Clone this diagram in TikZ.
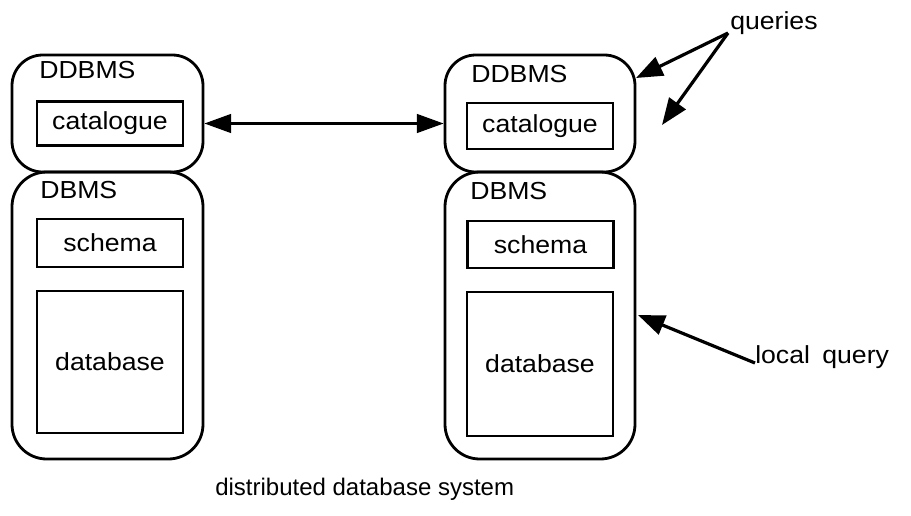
\documentclass[tikz,border=0pt]{standalone}
\usepackage{fontspec}
\setmainfont{Liberation Sans}[FakeStretch=1.08]
\newfontfamily\capfont{Liberation Sans}
\usetikzlibrary{arrows.meta}

\tikzset{
  site/.style={draw, line width=2.1pt, rounded corners=23pt, inner sep=0pt},
  part/.style={draw, line width=1.7pt, inner sep=0pt, minimum width=109.5pt,
               font=\fontsize{18.5}{21}\selectfont},
  tag/.style={inner sep=0pt, anchor=base west, font=\fontsize{18.5}{21}\selectfont},
  link/.style={line width=2.4pt, -{Triangle[length=20pt,width=15pt]}},
  twoway/.style={line width=1.7pt, {Triangle[length=20pt,width=14pt]}-{Triangle[length=20pt,width=14pt]}},
}

\begin{document}
\begin{tikzpicture}[x=0.75pt, y=-0.75pt]
\useasboundingbox (0,0) rectangle (911,515);

% left site
\node[site, minimum width=143.25pt, minimum height=87.75pt] (ddl) at (107.5,113.5) {};
\node[site, rounded corners=26pt, minimum width=143.25pt, minimum height=215.25pt] (dbl) at (107.5,315.5) {};
\node[tag] (ddlt) at (39,78) {DDBMS};
\node[tag] (dblt) at (40,198) {DBMS};
\node[part, minimum height=33pt] (catl) at (110,123.5) {catalogue};
\node[part, minimum height=36pt] (schl) at (110,243) {schema};
\node[part, minimum height=106.5pt] (datl) at (110,362) {database};

% right site
\node[site, minimum width=142.5pt, minimum height=87.75pt] (ddr) at (540,113.5) {};
\node[site, rounded corners=26pt, minimum width=142.5pt, minimum height=215.25pt] (dbr) at (540,315.5) {};
\node[tag] (ddrt) at (471,82) {DDBMS};
\node[tag] (dbrt) at (470,199) {DBMS};
\node[part, minimum height=34.5pt] (catr) at (540,126) {catalogue};
\node[part, minimum height=35.25pt] (schr) at (540.5,244.5) {schema};
\node[part, minimum height=108pt] (datr) at (540,364) {database};

% catalogue exchange between the two sites
\draw[twoway] (ddl.east |- catl.center) -- (ddr.west |- catl.center);

% incoming queries
\node[tag] (qry) at (730,29) {queries};
\coordinate (qsrc) at (728,33);
\coordinate (qa) at (636,78);
\coordinate (qb) at (662,125);
\draw[link] (qsrc) -- (qa);
\draw[link] (qsrc) -- (qb);

% local query
\node[tag] (lq) at (755,363) {local\hspace{0.5em}query};
\coordinate (lqa) at (638,315);
\draw[link] (lq.base west) -- (lqa);

% caption
\node[inner sep=0pt, anchor=base west, font=\capfont\fontsize{18}{21}\selectfont] (cap) at (215,495) {distributed database system};
\end{tikzpicture}
\end{document}
